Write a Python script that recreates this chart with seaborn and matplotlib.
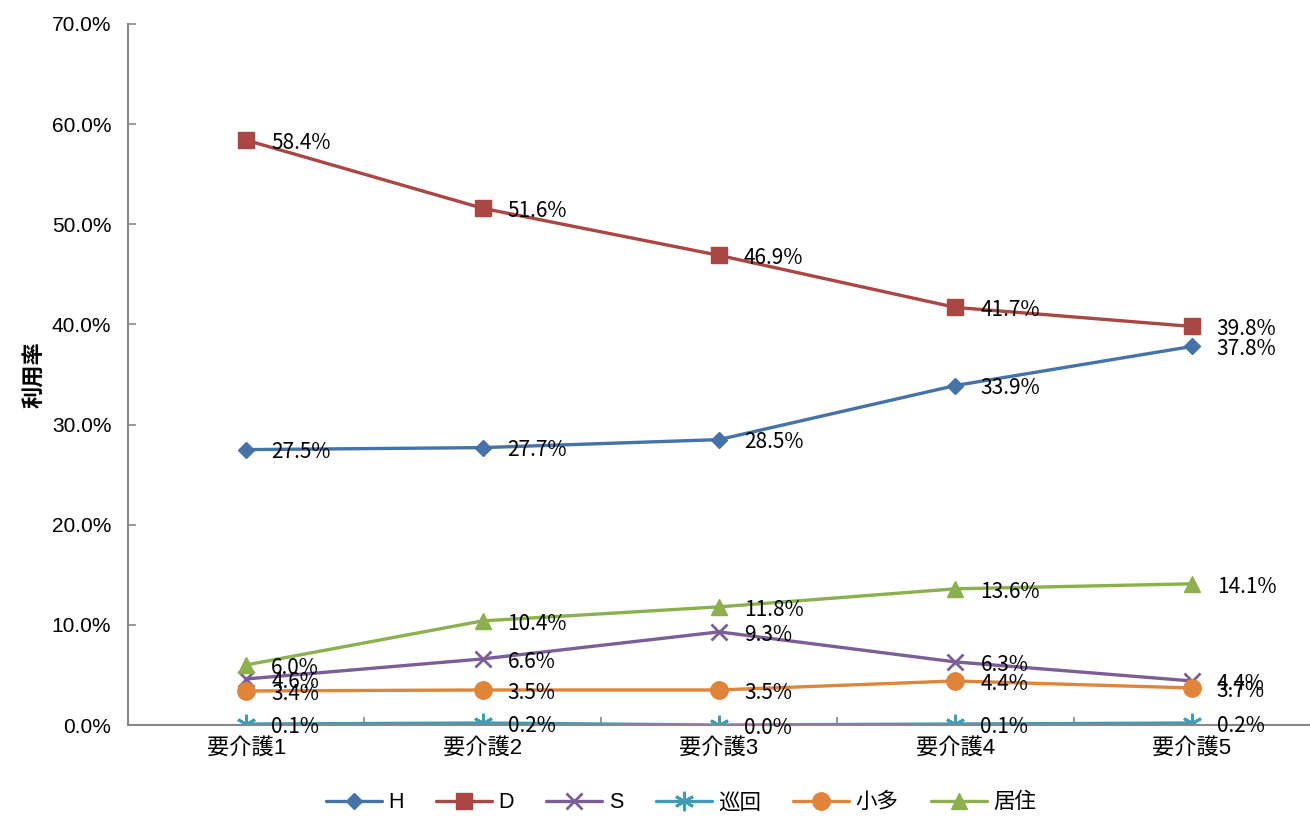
import matplotlib
matplotlib.use("Agg")
import matplotlib.pyplot as plt
from matplotlib.ticker import FixedLocator, FuncFormatter
import seaborn as sns
import pandas as pd

# ==========================================
# DATA
# ==========================================
categories = ["要介護1", "要介護2", "要介護3", "要介護4", "要介護5"]
series_names = ["H", "D", "S", "巡回", "小多", "居住"]

h_rate = [27.5, 27.7, 28.5, 33.9, 37.8]
d_rate = [58.4, 51.6, 46.9, 41.7, 39.8]
s_rate = [4.6, 6.6, 9.3, 6.3, 4.4]
junkai_rate = [0.1, 0.2, 0.0, 0.1, 0.2]
shoutaki_rate = [3.4, 3.5, 3.5, 4.4, 3.7]
kyoju_rate = [6.0, 10.4, 11.8, 13.6, 14.1]

y_ticks = [0, 10, 20, 30, 40, 50, 60, 70]

# ==========================================
# STYLE
# ==========================================
sns.set_theme(style="white")
plt.rcParams["font.family"] = ["Liberation Sans", "Noto Sans CJK JP", "DejaVu Sans"]
plt.rcParams["text.color"] = "black"
plt.rcParams["xtick.labelcolor"] = "black"
plt.rcParams["ytick.labelcolor"] = "black"
plt.rcParams["axes.labelcolor"] = "black"
label_family = ["Noto Sans CJK JP", "DejaVu Sans"]

colors = {
    "H": "#4572A7",
    "D": "#AA4643",
    "S": "#7B5E97",
    "巡回": "#3E9DB5",
    "小多": "#E0843A",
    "居住": "#8BB04D",
}
markers = {"H": "D", "D": "s", "S": "x", "巡回": (6, 2, 0), "小多": "o", "居住": "^"}
msizes = {"H": 8, "D": 12, "S": 11, "巡回": 14, "小多": 12.5, "居住": 12}

values = {
    "H": h_rate,
    "D": d_rate,
    "S": s_rate,
    "巡回": junkai_rate,
    "小多": shoutaki_rate,
    "居住": kyoju_rate,
}

df = pd.DataFrame(
    [(name, cat, v) for name in series_names for cat, v in zip(categories, values[name])],
    columns=["series", "category", "rate"],
)

fig = plt.figure(figsize=(13.1, 8.16), dpi=100)
ax = fig.add_axes([0.0977, 0.1115, 0.9023, 0.8591])

for name in series_names:
    sub = df[df["series"] == name]
    mk = markers[name]
    thin = mk in ("x",) or isinstance(mk, tuple)
    sns.lineplot(
        data=sub, x="category", y="rate", ax=ax,
        color=colors[name], linewidth=2.4, label=name,
        marker=mk, markersize=msizes[name],
        markeredgecolor=colors[name],
        markeredgewidth=2.0 if thin else 1.0,
        sort=False,
    )
    for i, v in enumerate(values[name]):
        ax.annotate(f"{v:.1f}%", (i, v), xytext=(18, -2), textcoords="offset points",
                    ha="left", va="center", fontsize=15, family=label_family, color="black")

# axes
ax.set_xlim(-0.5, 4.5)
ax.set_ylim(0, 70)
ax.yaxis.set_major_locator(FixedLocator(y_ticks))
ax.yaxis.set_major_formatter(FuncFormatter(lambda v, p: f"{v:.1f}%"))
ax.set_xticks(range(len(categories)))
ax.set_xticklabels(categories)
ax.xaxis.set_minor_locator(FixedLocator([0.5, 1.5, 2.5, 3.5]))

ax.tick_params(axis="y", which="major", direction="in", length=6, width=1.2, color="#888888",
               labelsize=15, pad=12, left=True)
ax.tick_params(axis="x", which="major", length=0, labelsize=16, pad=9)
ax.tick_params(axis="x", which="minor", direction="in", length=6, width=1.2, color="#888888", bottom=True)

for side in ["top", "right"]:
    ax.spines[side].set_visible(False)
for side in ["left", "bottom"]:
    ax.spines[side].set_color("#888888")
    ax.spines[side].set_linewidth(1.5)

ax.set_xlabel("")
ax.set_ylabel("利用率", fontsize=16, fontweight="bold", labelpad=4)
ax.grid(False)

handles, labels = ax.get_legend_handles_labels()
ax.get_legend().remove()
fig.legend(handles, labels, loc="center", bbox_to_anchor=(0.52, 0.016), ncol=6,
           frameon=False, fontsize=15.5, handlelength=2.6, columnspacing=1.5, handletextpad=0.3)

plt.savefig("out.png", dpi=100)
